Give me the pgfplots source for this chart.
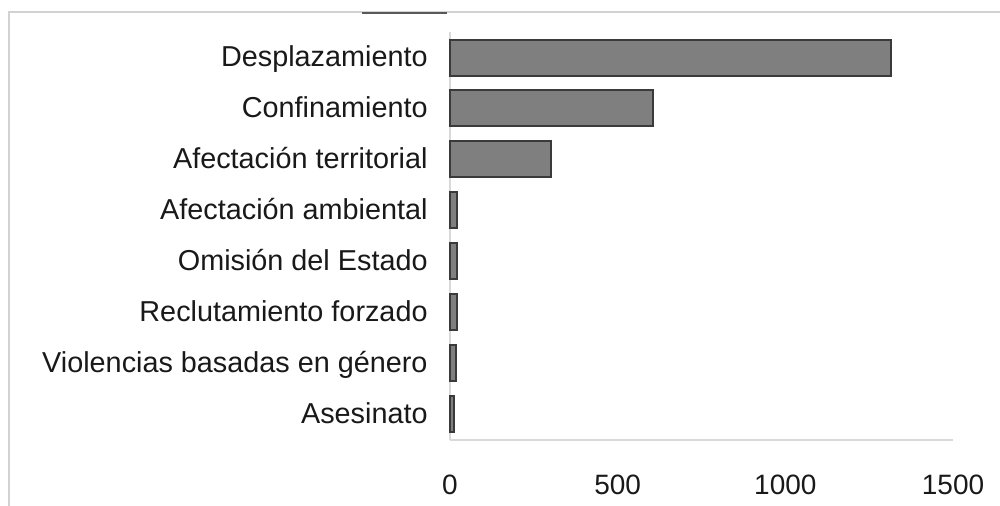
\documentclass[border=0pt]{standalone}
\usepackage{pgfplots}
\pgfplotsset{compat=1.18}
\usepackage{fontspec}
\setmainfont{Liberation Sans}
\definecolor{framegray}{RGB}{210,210,210}
\definecolor{axgray}{RGB}{217,217,217}
\definecolor{barfill}{RGB}{127,127,127}
\definecolor{baredge}{RGB}{58,58,58}
\begin{document}
\begin{tikzpicture}[x=1pt,y=1pt]
\useasboundingbox (0,0) rectangle (500,253);
\fill[white] (0,0) rectangle (500,253);
\draw[framegray, line width=1pt] (4.5,0) -- (4.5,247) -- (500,247);
\draw[black!65, line width=0.8pt] (181,246.6) -- (223.5,246.6);
\begin{axis}[
  at={(225pt,33pt)}, anchor=origin,
  scale only axis, width=251.5pt, height=204pt,
  xbar, bar width=18pt,
  xmin=0, xmax=1500, ymin=0.5, ymax=8.5,
  axis x line*=bottom, axis y line*=left,
  axis line style={axgray, line width=0.6pt},
  major tick length=0pt,
  xtick={0,500,1000,1500},
  ytick={1,2,3,4,5,6,7,8},
  yticklabels={Asesinato,Violencias basadas en género,Reclutamiento forzado,Omisión del Estado,Afectación ambiental,Afectación territorial,Confinamiento,Desplazamiento},
  /pgf/number format/assume math mode=true,
  /pgf/number format/set thousands separator={},
  ticklabel style={text=black!90, inner sep=0pt},
  xticklabel style={font=\fontsize{14}{16}\selectfont, anchor=base, yshift=-27.5pt},
  yticklabel style={font=\fontsize{14.4}{17}\selectfont, anchor=base east, xshift=-11pt, yshift=-4.6pt},
  clip=false,
]
\addplot[fill=barfill, draw=baredge, line width=1pt] coordinates {
 (13,1) (17,2) (20,3) (20,4) (20,5) (301,6) (606,7) (1316,8)
};
\end{axis}
\end{tikzpicture}
\end{document}
